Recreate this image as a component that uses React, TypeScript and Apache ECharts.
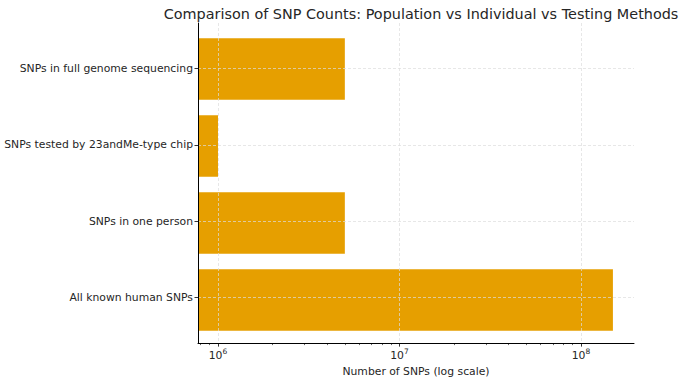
import React, { useEffect, useRef } from "react";
import * as echarts from "echarts";

const categories = [
  "All known human SNPs",
  "SNPs in one person",
  "SNPs tested by 23andMe-type chip",
  "SNPs in full genome sequencing",
];
const snpCounts = [150000000, 5000000, 1000000, 5000000];
const majorTicks = [1e6, 1e7, 1e8];
const minorTicks = [8e5, 9e5, 2e6, 3e6, 4e6, 5e6, 6e6, 7e6, 8e6, 9e6, 2e7, 3e7, 4e7, 5e7, 6e7, 7e7, 8e7, 9e7];
const categoryPositions = [0, 1, 2, 3];
const xMin = 7.76e5;
const xMax = 1.96e8;

const TEXT = "#262626";
const GRID_COLOR = "#dcdcdc";

export default function App() {
  const ref = useRef<HTMLDivElement>(null);
  useEffect(() => {
    if (!ref.current) return;
    const chart = echarts.init(ref.current, undefined, { renderer: "svg" });
    const font = "DejaVu Sans";
    const gridBase = { left: 198, right: 46 };
    const fs = 10.8;
    chart.setOption({
      animation: false,
      textStyle: { fontFamily: font },
      title: {
        text: "Comparison of SNP Counts: Population vs Individual vs Testing Methods",
        left: 416,
        textAlign: "center",
        top: 2,
        textStyle: { fontFamily: font, fontSize: 14.4, fontWeight: "normal", color: TEXT },
      },
      grid: [
        { ...gridBase, top: 23, bottom: 36 },
        { ...gridBase, top: 30.5, bottom: 43.5 },
      ],
      xAxis: [
        {
          gridIndex: 0,
          type: "log",
          position: "bottom",
          min: xMin,
          max: xMax,
          z: 3,
          name: "Number of SNPs (log scale)",
          nameLocation: "middle",
          nameGap: 15,
          nameTextStyle: { fontFamily: font, fontSize: fs, color: TEXT },
          axisLine: { show: true, onZero: false, lineStyle: { color: "#000", width: 1 } },
          axisTick: { show: true, length: 3.5, lineStyle: { color: "#000", width: 0.8 }, customValues: majorTicks },
          axisLabel: {
            show: true,
            margin: 4,
            customValues: majorTicks,
            fontFamily: font,
            fontSize: fs,
            color: TEXT,
            formatter: (v: number) => `10{sup|${Math.round(Math.log10(v))}}`,
            rich: {
              sup: { fontSize: 7.5, verticalAlign: "top", padding: [0, 0, 9, 0], color: TEXT, fontFamily: font },
            },
          },
          splitLine: { show: true, lineStyle: { color: GRID_COLOR, width: 0.7, type: [3, 2] } },
        },
        {
          gridIndex: 0,
          type: "log",
          position: "bottom",
          min: xMin,
          max: xMax,
          z: 3,
          axisLine: { show: false, onZero: false },
          axisTick: { show: true, length: 2, lineStyle: { color: "#000", width: 0.6 }, customValues: minorTicks },
          axisLabel: { show: false },
          splitLine: { show: false },
        },
        {
          gridIndex: 1,
          type: "log",
          min: xMin,
          max: xMax,
          show: false,
        },
      ],
      yAxis: [
        {
          gridIndex: 0,
          type: "value",
          position: "left",
          min: -0.597,
          max: 3.597,
          z: 3,
          axisLine: { show: true, onZero: false, lineStyle: { color: "#000", width: 1 } },
          axisTick: { show: true, length: 3.5, lineStyle: { color: "#000", width: 0.8 }, customValues: categoryPositions },
          axisLabel: {
            show: true,
            margin: 5,
            customValues: categoryPositions,
            fontFamily: font,
            fontSize: fs,
            color: TEXT,
            formatter: (v: number) => categories[Math.round(v)] ?? "",
          },
          splitLine: { show: true, lineStyle: { color: GRID_COLOR, width: 0.7, type: [3, 2] } },
        },
        {
          gridIndex: 1,
          type: "category",
          data: categories,
          show: false,
        },
      ],
      series: [
        {
          type: "bar",
          xAxisIndex: 2,
          yAxisIndex: 1,
          data: snpCounts,
          barCategoryGap: "20%",
          clip: true,
          itemStyle: { color: "#E69F00" },
          z: 2,
        },
      ],
    });
    return () => chart.dispose();
  }, []);
  return <div ref={ref} style={{ width: 680, height: 382, position: "absolute", left: 0, top: 0 }} />;
}
